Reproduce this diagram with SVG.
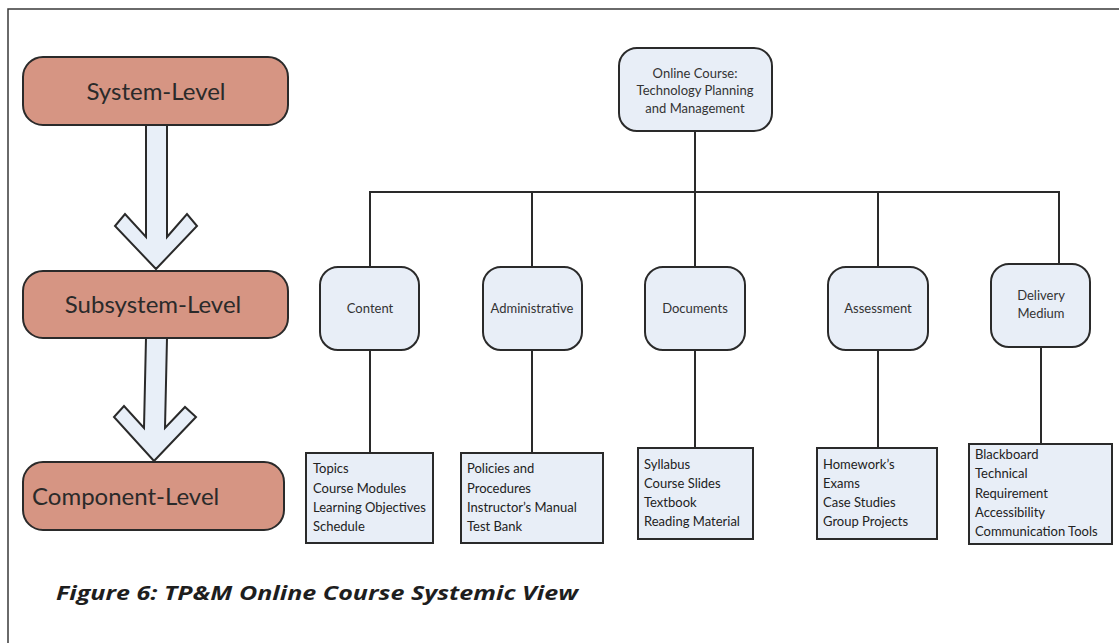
<svg xmlns="http://www.w3.org/2000/svg" width="1119" height="643" viewBox="0 0 1119 643">
  <style>
    .frame { fill: none; stroke: #3a3a3a; stroke-width: 1.5; }
    .level { fill: #d69583; stroke: #2a2a2a; stroke-width: 2; }
    .level-text { font-family: Lato, "Liberation Sans", sans-serif; font-size: 24px; fill: #2a2a2a; }
    .flow { fill: #e8eff8; stroke: #2a2a2a; stroke-width: 2; stroke-linejoin: miter; }
    .node { fill: #e8eef7; stroke: #2a2a2a; stroke-width: 2; }
    .node-text { font-family: Lato, "Liberation Sans", sans-serif; font-size: 13px; fill: #333; text-anchor: middle; }
    .leaf { fill: #e8eef7; stroke: #2a2a2a; stroke-width: 2; }
    .leaf-text { font-family: Lato, "Liberation Sans", sans-serif; font-size: 13px; fill: #222; }
    .link { fill: none; stroke: #2a2a2a; stroke-width: 2; }
    .caption { font-family: "Open Sans", "Liberation Sans", sans-serif; font-size: 20px; font-weight: bold; font-style: italic; fill: #1e1e1e; }
  </style>

  <!-- outer frame -->
  <path class="frame" d="M8,643 V9 H1119"/>

  <!-- levels column -->
  <g id="system-level">
    <rect class="level" x="23" y="57" width="265" height="68" rx="20"/>
    <text class="level-text" x="156" y="100" text-anchor="middle">System-Level</text>
  </g>
  <g id="subsystem-level">
    <rect class="level" x="23" y="271" width="265" height="67" rx="20"/>
    <text class="level-text" x="153" y="313" text-anchor="middle">Subsystem-Level</text>
  </g>
  <g id="component-level">
    <rect class="level" x="23" y="462" width="261" height="68" rx="20"/>
    <text class="level-text" x="32" y="505">Component-Level</text>
  </g>

  <g id="level-arrows">
    <path class="flow" d="M146,125 H167 V237 L187,214 L197,226 L156,269 L115,226 L125,214 L146,237 Z"/>
    <path class="flow" d="M146,338 H167 L165,428 L185,407 L196,417 L154,461 L114,417 L124,406 L144,428 Z"/>
  </g>

  <!-- tree connectors -->
  <g id="connectors">
    <path class="link" d="M695,131 V192"/>
    <path class="link" d="M370,267 V192 H1059 V264"/>
    <path class="link" d="M532,192 V267"/>
    <path class="link" d="M695,192 V267"/>
    <path class="link" d="M878,192 V267"/>
    <path class="link" d="M370,350 V453"/>
    <path class="link" d="M532,350 V453"/>
    <path class="link" d="M695,350 V448"/>
    <path class="link" d="M878,350 V448"/>
    <path class="link" d="M1041,347 V444"/>
  </g>

  <g id="root">
    <rect class="node" x="619" y="48" width="153" height="83" rx="18"/>
    <text class="node-text" x="695" y="78">Online Course:</text>
    <text class="node-text" x="695" y="95">Technology Planning</text>
    <text class="node-text" x="695" y="113">and Management</text>
  </g>

  <g id="content">
    <rect class="node" x="320" y="267" width="99" height="83" rx="18"/>
    <text class="node-text" x="370" y="313">Content</text>
  </g>
  <g id="administrative">
    <rect class="node" x="483" y="267" width="99" height="83" rx="18"/>
    <text class="node-text" x="532" y="313">Administrative</text>
  </g>
  <g id="documents">
    <rect class="node" x="645" y="267" width="100" height="83" rx="18"/>
    <text class="node-text" x="695" y="313">Documents</text>
  </g>
  <g id="assessment">
    <rect class="node" x="828" y="267" width="100" height="83" rx="18"/>
    <text class="node-text" x="878" y="313">Assessment</text>
  </g>
  <g id="delivery-medium">
    <rect class="node" x="991" y="264" width="99" height="83" rx="18"/>
    <text class="node-text" x="1041" y="300">Delivery</text>
    <text class="node-text" x="1041" y="318">Medium</text>
  </g>

  <g id="content-items">
    <rect class="leaf" x="306" y="453" width="127" height="90"/>
    <text class="leaf-text" x="313" y="473">Topics</text>
    <text class="leaf-text" x="313" y="493">Course Modules</text>
    <text class="leaf-text" x="313" y="512">Learning Objectives</text>
    <text class="leaf-text" x="313" y="531">Schedule</text>
  </g>
  <g id="administrative-items">
    <rect class="leaf" x="461" y="453" width="142" height="90"/>
    <text class="leaf-text" x="467" y="473">Policies and</text>
    <text class="leaf-text" x="467" y="493">Procedures</text>
    <text class="leaf-text" x="467" y="512">Instructor’s Manual</text>
    <text class="leaf-text" x="467" y="531">Test Bank</text>
  </g>
  <g id="documents-items">
    <rect class="leaf" x="638" y="448" width="115" height="91"/>
    <text class="leaf-text" x="644" y="469">Syllabus</text>
    <text class="leaf-text" x="644" y="488">Course Slides</text>
    <text class="leaf-text" x="644" y="507">Textbook</text>
    <text class="leaf-text" x="644" y="526">Reading Material</text>
  </g>
  <g id="assessment-items">
    <rect class="leaf" x="817" y="448" width="120" height="91"/>
    <text class="leaf-text" x="823" y="469">Homework’s</text>
    <text class="leaf-text" x="823" y="488">Exams</text>
    <text class="leaf-text" x="823" y="507">Case Studies</text>
    <text class="leaf-text" x="823" y="526">Group Projects</text>
  </g>
  <g id="delivery-items">
    <rect class="leaf" x="969" y="444" width="143" height="100"/>
    <text class="leaf-text" x="975" y="459">Blackboard</text>
    <text class="leaf-text" x="975" y="478">Technical</text>
    <text class="leaf-text" x="975" y="498">Requirement</text>
    <text class="leaf-text" x="975" y="517">Accessibility</text>
    <text class="leaf-text" x="975" y="536">Communication Tools</text>
  </g>

  <text class="caption" x="56" y="600" textLength="522" lengthAdjust="spacingAndGlyphs">Figure 6: TP&amp;M Online Course Systemic View</text>
</svg>
